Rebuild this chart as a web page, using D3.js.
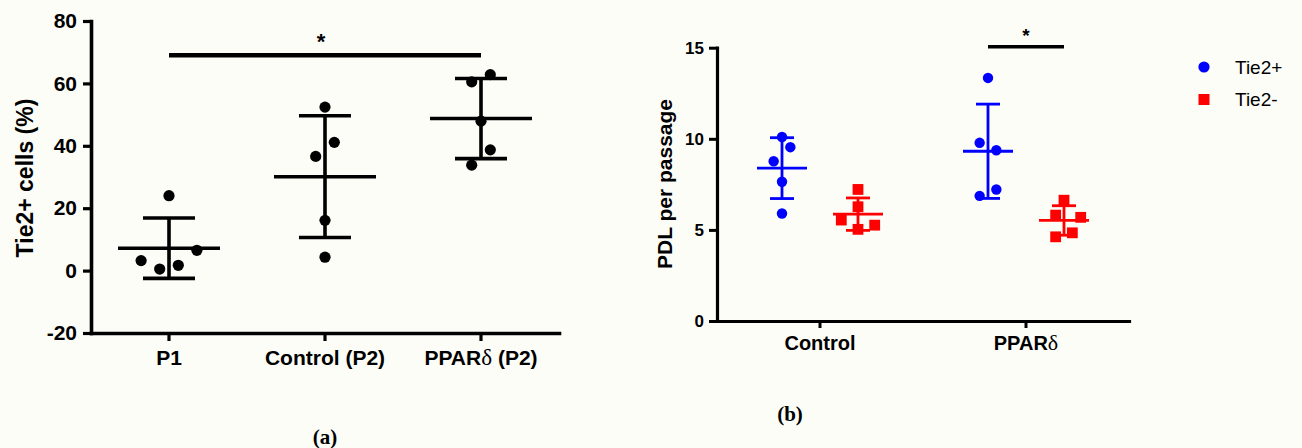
<!DOCTYPE html>
<html><head><meta charset="utf-8">
<script src="https://cdn.jsdelivr.net/npm/d3@7"></script>
<style>
body{margin:0;background:#fdfdf8;}
svg{display:block;}
</style></head>
<body><svg id="c" width="1302" height="448"></svg>
<script>
// ---------- DATA ----------
// Panel (a)
const catsA = ["P1", "Control (P2)", "PPARδ (P2)"];
const valsP1 = [3.2, 0.5, 1.7, 6.5, 24.0];
const valsCtrlP2 = [52.4, 41.1, 36.6, 16.1, 4.3];
const valsPPARP2 = [60.5, 62.8, 47.9, 38.7, 33.8];
// horizontal slot of each dot within its column (in dot-spacing units)
const slotP1 = [-1.5, -0.5, 0.5, 1.5, 0];
const slotCtrlP2 = [0, 0.5, -0.5, 0, 0];
const slotPPARP2 = [-0.5, 0.5, 0, 0.5, -0.5];
const ticksA = [-20, 0, 20, 40, 60, 80];
const yTitleA = "Tie2+ cells (%)";
const sigA = {from: "P1", to: "PPARδ (P2)", y: 69, label: "*"};

// Panel (b)
const catsB = ["Control", "PPARδ"];
const seriesB = ["Tie2+", "Tie2-"];
const tie2posControl = [10.1, 9.54, 8.77, 7.64, 5.9];
const tie2negControl = [7.22, 6.27, 5.54, 5.26, 5.03];
const tie2posPPAR = [13.34, 9.78, 9.37, 7.22, 6.87];
const tie2negPPAR = [6.63, 5.81, 5.69, 4.84, 4.62];
const slotPosControl = [0, 0.5, -0.5, 0, 0];
const slotNegControl = [0, 0, -1, 1, 0];
const slotPosPPAR = [0, -0.5, 0.5, 0.5, -0.5];
const slotNegPPAR = [0, -0.5, 1, 0.5, -0.5];
const ticksB = [0, 5, 10, 15];
const yTitleB = "PDL per passage";
const sigB = {cat: "PPARδ", y: 15.05, label: "*"};
const captions = ["(a)", "(b)"];

// ---------- DRAW ----------
const SANS = "Arial, 'Liberation Sans', sans-serif";
const SERIF = "'Liberation Serif', 'Times New Roman', serif";
const svg = d3.select("#c");
svg.append("rect").attr("width",1302).attr("height",448).attr("fill","#fdfdf8");

function meanSd(v){const m=d3.mean(v), s=d3.deviation(v); return {m, lo:m-s, hi:m+s};}
// render labels so the Greek delta uses a serif (Symbol-like) face
function greekLabel(sel){
  sel.each(function(){
    const t = d3.select(this), s = t.text();
    if (s.indexOf("δ") < 0) return;
    t.text(null);
    s.split(/(δ)/).forEach(part => {
      if (!part) return;
      const ts = t.append("tspan").text(part);
      if (part === "δ") ts.style("font-family", SERIF).style("font-weight","normal").style("font-size","1.1em");
    });
  });
}

// ===== Panel a =====
const gA = svg.append("g");
const yA = d3.scaleLinear().domain([-20, 80]).range([333, 21]);
const xA = d3.scaleBand().domain(catsA).range([91, 559]);
const cx = c => xA(c) + xA.bandwidth()/2;
const groupsA = [
  {cat: catsA[0], v: valsP1, s: slotP1},
  {cat: catsA[1], v: valsCtrlP2, s: slotCtrlP2},
  {cat: catsA[2], v: valsPPARP2, s: slotPPARP2}
];
const unitA = 18.6;
groupsA.forEach(g => {
  gA.selectAll(null).data(g.v.map((v,i)=>({v, s:g.s[i]}))).enter().append("circle")
    .attr("cx", d => cx(g.cat) + d.s*unitA).attr("cy", d => yA(d.v)).attr("r", 5.6).attr("fill","#000");
  const st = meanSd(g.v), x0 = cx(g.cat);
  gA.append("line").attr("x1", x0-51).attr("x2", x0+51).attr("y1", yA(st.m)).attr("y2", yA(st.m));
  gA.append("line").attr("x1", x0).attr("x2", x0).attr("y1", yA(st.lo)).attr("y2", yA(st.hi));
  [st.lo, st.hi].forEach(v => gA.append("line").attr("x1", x0-26).attr("x2", x0+26).attr("y1", yA(v)).attr("y2", yA(v)));
});
gA.selectAll("line").attr("stroke","#000").attr("stroke-width",3.6);

const axA = gA.append("g").attr("transform","translate(91,0)")
  .call(d3.axisLeft(yA).tickValues(ticksA).tickFormat(d => String(d)).tickSize(8).tickSizeOuter(0).tickPadding(6));
const axAx = gA.append("g").attr("transform","translate(0,333)")
  .call(d3.axisBottom(xA).tickSize(8).tickSizeOuter(0).tickPadding(9));
[axA, axAx].forEach(a => {
  a.select(".domain").attr("stroke","#000").attr("stroke-width",3.6).attr("stroke-linecap","square");
  a.selectAll(".tick line").attr("stroke","#000").attr("stroke-width",3.2);
  a.selectAll("text").attr("fill","#000").attr("font-size",21).attr("font-weight","bold").attr("font-family",SANS);
});
greekLabel(axAx.selectAll(".tick text"));
gA.append("text").attr("transform","translate(33,178) rotate(-90)").attr("text-anchor","middle")
  .attr("font-family",SANS).attr("font-size",23).attr("font-weight","bold").text(yTitleA);
gA.append("line").attr("x1", cx(sigA.from)).attr("x2", cx(sigA.to)).attr("y1", yA(sigA.y)).attr("y2", yA(sigA.y))
  .attr("stroke","#000").attr("stroke-width",4.4);
gA.append("text").attr("x", (cx(sigA.from)+cx(sigA.to))/2 - 4).attr("y", yA(sigA.y)-6).attr("text-anchor","middle")
  .attr("font-family",SANS).attr("font-size",22).attr("font-weight","bold").text(sigA.label);

// ===== Panel b =====
const gB = svg.append("g");
const yB = d3.scaleLinear().domain([0, 15]).range([321, 47.7]);
const xB = d3.scaleBand().domain(catsB).range([717, 1129]);
const xS = d3.scaleBand().domain(seriesB).range([-76, 76]);
const colors = {"Tie2+": "#0000ff", "Tie2-": "#ff0000"};
const cxB = (c, s) => xB(c) + xB.bandwidth()/2 + xS(s) + xS.bandwidth()/2;
const groupsB = [
  {cat: catsB[0], ser: seriesB[0], v: tie2posControl, s: slotPosControl},
  {cat: catsB[0], ser: seriesB[1], v: tie2negControl, s: slotNegControl},
  {cat: catsB[1], ser: seriesB[0], v: tie2posPPAR, s: slotPosPPAR},
  {cat: catsB[1], ser: seriesB[1], v: tie2negPPAR, s: slotNegPPAR}
];
const unitB = 16.7;
groupsB.forEach(g => {
  const col = colors[g.ser], x0 = cxB(g.cat, g.ser);
  const pts = g.v.map((v,i)=>({v, s:g.s[i]}));
  if (g.ser === seriesB[0]) {
    gB.selectAll(null).data(pts).enter().append("circle")
      .attr("cx", d => x0 + d.s*unitB).attr("cy", d => yB(d.v)).attr("r", 5.2).attr("fill", col);
  } else {
    gB.selectAll(null).data(pts).enter().append("rect")
      .attr("x", d => x0 + d.s*unitB - 5.4).attr("y", d => yB(d.v) - 5.4).attr("width",10.8).attr("height",10.8).attr("fill", col);
  }
  const st = meanSd(g.v);
  const lg = gB.append("g").attr("stroke", col).attr("stroke-width", 2.8);
  lg.append("line").attr("x1", x0-25).attr("x2", x0+25).attr("y1", yB(st.m)).attr("y2", yB(st.m));
  lg.append("line").attr("x1", x0).attr("x2", x0).attr("y1", yB(st.lo)).attr("y2", yB(st.hi));
  [st.lo, st.hi].forEach(v => lg.append("line").attr("x1", x0-12).attr("x2", x0+12).attr("y1", yB(v)).attr("y2", yB(v)));
});
const axB = gB.append("g").attr("transform","translate(717,0)")
  .call(d3.axisLeft(yB).tickValues(ticksB).tickFormat(d => String(d)).tickSize(8).tickSizeOuter(0).tickPadding(5));
const axBx = gB.append("g").attr("transform","translate(0,321)")
  .call(d3.axisBottom(xB).tickSize(7).tickSizeOuter(0).tickPadding(8));
[axB, axBx].forEach(a => {
  a.select(".domain").attr("stroke","#000").attr("stroke-width",3.2).attr("stroke-linecap","square");
  a.selectAll(".tick line").attr("stroke","#000").attr("stroke-width",3);
  a.selectAll("text").attr("fill","#000").attr("font-weight","bold").attr("font-family",SANS);
});
axB.selectAll("text").attr("font-size",17);
axBx.selectAll("text").attr("font-size",20);
greekLabel(axBx.selectAll(".tick text"));
gB.append("text").attr("transform","translate(672,184) rotate(-90)").attr("text-anchor","middle")
  .attr("font-family",SANS).attr("font-size",21).attr("font-weight","bold").text(yTitleB);
const sx1 = cxB(sigB.cat, seriesB[0]), sx2 = cxB(sigB.cat, seriesB[1]);
gB.append("line").attr("x1", sx1).attr("x2", sx2).attr("y1", yB(sigB.y)).attr("y2", yB(sigB.y))
  .attr("stroke","#000").attr("stroke-width",3.6);
gB.append("text").attr("x", (sx1+sx2)/2).attr("y", yB(sigB.y)-5).attr("text-anchor","middle")
  .attr("font-family",SANS).attr("font-size",19).attr("font-weight","bold").text(sigB.label);

// legend
const lgd = gB.append("g");
seriesB.forEach((s,i) => {
  const y = 67 + i*32.5;
  if (i === 0) lgd.append("circle").attr("cx",1204).attr("cy",y).attr("r",5.6).attr("fill",colors[s]);
  else lgd.append("rect").attr("x",1198.5).attr("y",y-5.5).attr("width",11).attr("height",11).attr("fill",colors[s]);
  lgd.append("text").attr("x",1235).attr("y",y).attr("dy","0.35em").attr("font-family",SANS)
    .attr("font-size",19).attr("fill","#000").text(s);
});

// captions
svg.append("text").attr("x",325).attr("y",444).attr("text-anchor","middle")
  .attr("font-family",SERIF).attr("font-weight","bold").attr("font-size",21).text(captions[0]);
svg.append("text").attr("x",790).attr("y",421).attr("text-anchor","middle")
  .attr("font-family",SERIF).attr("font-weight","bold").attr("font-size",21).text(captions[1]);
</script></body></html>
